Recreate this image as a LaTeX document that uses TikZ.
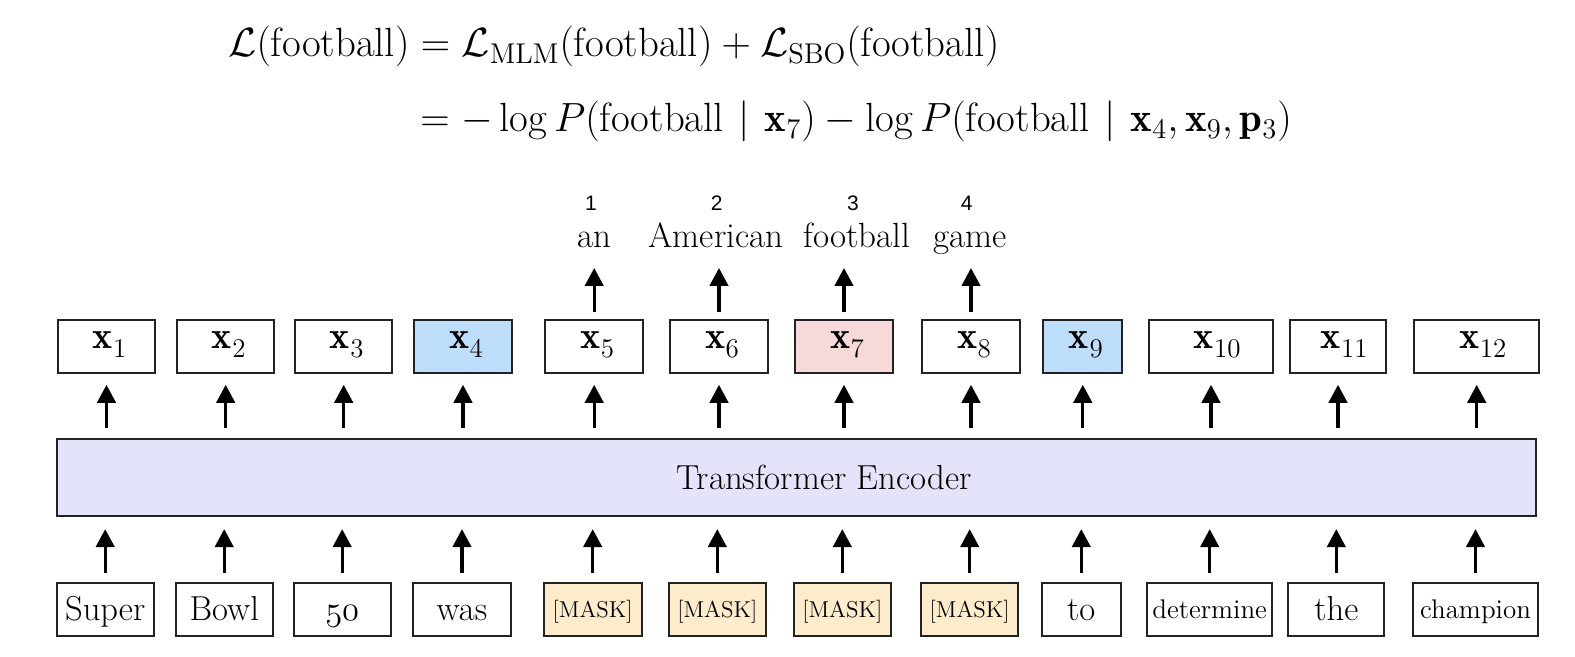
\documentclass[tikz,border=0pt]{standalone}
\usepackage{fix-cm}
\usepackage{amsmath,amssymb}
\usepackage{fontspec}
\newfontfamily\digitfont{Liberation Sans}
\usetikzlibrary{arrows.meta}
\definecolor{xblue}{RGB}{190,221,250}
\definecolor{xpink}{RGB}{247,217,217}
\definecolor{mbeige}{RGB}{252,236,203}
\definecolor{encfill}{RGB}{227,227,250}
\definecolor{edge}{RGB}{34,34,34}
\newcommand\xlab[2][3pt]{\hspace*{#1}$\mathbf{x}$\kern0.3pt\raisebox{-4.5pt}{\fontsize{13.5}{16}\selectfont #2}}
\newcommand\gmid{\mskip1.5mu\mid\mskip1.5mu}
\tikzset{
  base box/.style={draw=edge, line width=1pt, inner sep=0pt, minimum height=26.5pt, anchor=center},
  xbox/.style={base box, minimum width=#1, font=\fontsize{19}{22}\selectfont, text height=8pt, text depth=5.3pt},
  wbox/.style={base box, minimum width=#1, font=\fontsize{17.3}{20}\selectfont, text height=13pt, text depth=2pt},
  sbox/.style={base box, minimum width=#1, font=\fontsize{13.5}{16}\selectfont, text height=11pt, text depth=1.8pt},
  mbox/.style={base box, minimum width=#1, fill=mbeige, font=\fontsize{11.5}{14}\selectfont, text height=10pt, text depth=2pt},
  enc/.style={draw=edge, line width=1pt, fill=encfill, minimum width=739.6pt, minimum height=38.5pt, inner sep=0pt},
  toplab/.style={anchor=base, inner sep=0pt, font=\fontsize{17.5}{20}\selectfont},
  numlab/.style={anchor=base, inner sep=0pt, font=\fontsize{10.5}{12}\digitfont},
  eqn/.style={anchor=base west, inner sep=0pt, font=\fontsize{20.4}{24}\selectfont},
  arr/.style={line width=1.6pt, -{Triangle[width=9.2pt,length=9pt]}},
}
\begin{document}
\begin{tikzpicture}[x=0.5pt,y=-0.5pt]
\useasboundingbox (0,0) rectangle (1575,657);
% equation
\node[eqn] (eq1) at (228,57) {$\mathcal{L}(\text{football}) = \mathcal{L}_{\mathrm{MLM}}(\text{football}) + \mathcal{L}_{\mathrm{SBO}}(\text{football})$};
\node[eqn] (eq2) at (420,132) {$= -\log P(\text{football} \gmid \mathbf{x}_7) - \log P(\text{football} \gmid \mathbf{x}_4, \mathbf{x}_9, \mathbf{p}_3)$};
% encoder
\node[enc] (enc) at (796.35,477.2) {};
\node[anchor=base, inner sep=0pt, font=\fontsize{17.4}{20}\selectfont] (enclab) at (824,490) {Transformer Encoder};
% output boxes
\node[xbox=48.8pt] (x1) at (106.5,346.3) {\xlab{1}};
\node[xbox=48.6pt] (x2) at (225.7,346.3) {\xlab{2}};
\node[xbox=48.6pt] (x3) at (343.7,346.3) {\xlab{3}};
\node[xbox=48.7pt, fill=xblue] (x4) at (463,346.3) {\xlab{4}};
\node[xbox=48.8pt] (x5) at (594.2,346.3) {\xlab{5}};
\node[xbox=48.7pt] (x6) at (719,346.3) {\xlab{6}};
\node[xbox=48.7pt, fill=xpink] (x7) at (844,346.3) {\xlab{7}};
\node[xbox=48.7pt] (x8) at (971,346.3) {\xlab{8}};
\node[xbox=39.5pt, fill=xblue] (x9) at (1082.8,346.3) {\xlab{9}};
\node[xbox=62.3pt] (x10) at (1211,346.3) {\xlab[6pt]{10}};
\node[xbox=48pt] (x11) at (1338,346.3) {\xlab[6pt]{11}};
\node[xbox=62.3pt] (x12) at (1476.7,346.3) {\xlab[6pt]{12}};
% input boxes
\node[wbox=48.5pt] (w1) at (105.2,609.2) {Super};
\node[wbox=48.5pt] (w2) at (224.2,609.2) {Bowl};
\node[wbox=48.5pt] (w3) at (342.2,609.2) {{\usefont{OML}{cmm}{m}{it}50}};
\node[wbox=48.7pt] (w4) at (462,609.2) {was};
\node[mbox=49pt] (w5) at (592.7,609.2) {[MASK]};
\node[mbox=48.7pt] (w6) at (717.3,609.2) {[MASK]};
\node[mbox=48.7pt] (w7) at (842.3,609.2) {[MASK]};
\node[mbox=48.7pt] (w8) at (969.7,609.2) {[MASK]};
\node[wbox=39.3pt] (w9) at (1081.3,609.2) {to};
\node[sbox=62.3pt] (w10) at (1209.7,609.2) {determine};
\node[wbox=48pt] (w11) at (1336.3,609.2) {the};
\node[sbox=62.5pt] (w12) at (1475.5,609.2) {champion};
% predicted words
\node[toplab] (t1) at (594,248) {an};
\node[toplab] (t2) at (716,248) {American};
\node[toplab] (t3) at (856.7,248) {football};
\node[toplab] (t4) at (970,248) {game};
\node[numlab] (n1) at (591,210.7) {1};
\node[numlab] (n2) at (716.7,210.7) {2};
\node[numlab] (n3) at (853,210.7) {3};
\node[numlab] (n4) at (966.7,210.7) {4};
% arrows input -> encoder -> outputs
\foreach \i in {1,...,12} {
  \draw[arr, shorten <=4.35pt, shorten >=6.2pt] (w\i) -- (w\i |- enc.south);
  \draw[arr, shorten <=4.85pt, shorten >=5.5pt] (enc.north -| x\i) -- (x\i);
}
% arrows to predicted words
\draw[arr, shorten <=3.5pt, shorten >=10pt] (x5) -- (x5 |- t1.base);
\draw[arr, shorten <=3.5pt, shorten >=10pt] (x6) -- (x6 |- t2.base);
\draw[arr, shorten <=3.5pt, shorten >=10pt] (x7) -- (x7 |- t3.base);
\draw[arr, shorten <=3.5pt, shorten >=10pt] (x8) -- (x8 |- t4.base);
\end{tikzpicture}
\end{document}
